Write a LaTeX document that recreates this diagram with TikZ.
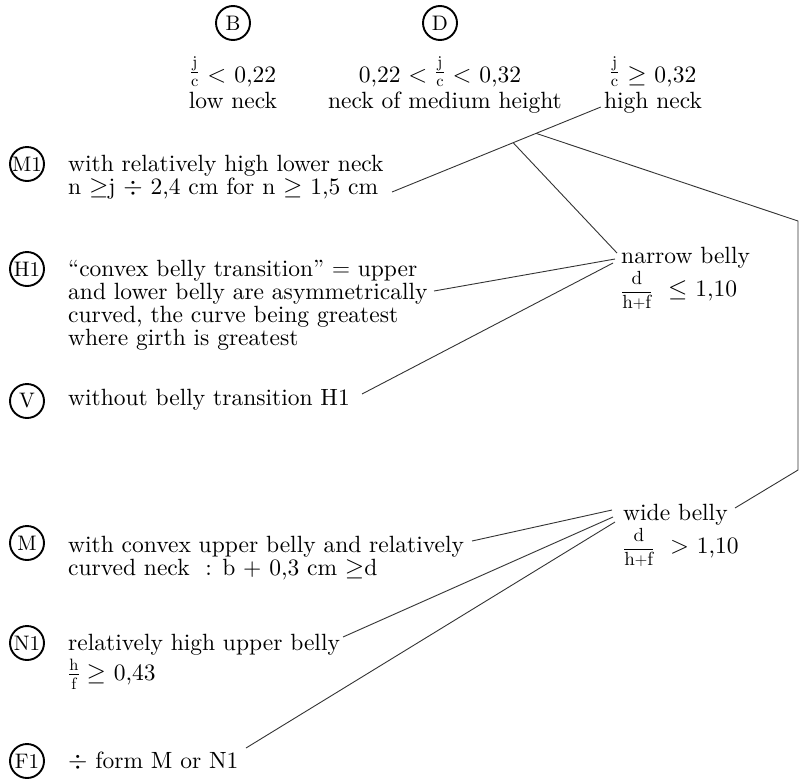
\documentclass[tikz,border=0pt]{standalone}
\usepackage{fontspec}
\setmainfont{lmroman10-regular.otf}
\usetikzlibrary{calc}
\newcommand{\ratio}[2]{\raisebox{4pt}{$\frac{\mathrm{#1}}{\mathrm{#2}}$}}
\newcommand{\bigratio}[2]{{\fontsize{19}{19}\selectfont$\displaystyle\frac{\mathrm{#1}}{\mathrm{#2}}$}}
\tikzset{
  every picture/.style={x=1pt, y=-1pt},
  tag/.style={circle, draw, line width=1.9pt, minimum size=34pt, inner sep=0pt, font=\fontsize{21}{21}\selectfont},
  entry/.style={anchor=north west, align=left, inner sep=0pt, font=\fontsize{23.5}{23}\selectfont},
  crit/.style={anchor=base, inner sep=0pt, font=\fontsize{23.5}{23}\selectfont},
  link/.style={draw=black!80, line width=0.9pt},
}
\begin{document}
\begin{tikzpicture}
  \useasboundingbox (0,0) rectangle (799,782);
  % neck height
  \node[tag] (B) at (233,23) {B};
  \node[tag] (D) at (440,23) {D};
  \node[crit] (lowfrac) at (233,82) {\ratio{j}{c} $<$ 0,22};
  \node[crit] (low) at (233,108) {low neck};
  \node[crit] (medfrac) at (440,82) {0,22 $<$ \ratio{j}{c} $<$ 0,32};
  \node[crit] (med) at (445,108) {neck of medium height};
  \node[crit] (highfrac) at (653,82) {\ratio{j}{c} $\geq$ 0,32};
  \node[crit] (high) at (653,108) {high neck};
  % forms on the left
  \node[tag] (M1) at (27,164) {M1};
  \node[entry] (tM1) at (68,155) {with relatively high lower neck\\n $\geq$j $\div$ 2,4 cm for n $\geq$ 1,5 cm};
  \node[tag] (H1) at (27,269) {H1};
  \node[entry] (tH1) at (68,260) {“convex belly transition” $=$ upper\\and lower belly are asymmetrically\\curved, the curve being greatest\\where girth is greatest};
  \node[tag] (V) at (27,401) {V};
  \node[entry, anchor=base west] (tV) at (68,405) {without belly transition H1};
  \node[tag] (M) at (27,543) {M};
  \node[entry] (tM) at (68,536) {with convex upper belly and relatively\\curved neck\ \ : b + 0,3 cm $\geq$d};
  \node[tag] (N1) at (27,643) {N1};
  \node[entry] (tN1) at (68,634) {relatively high upper belly\\[3pt]$\frac{\mathrm{h}}{\mathrm{f}} \geq$ 0,43};
  \node[tag] (F1) at (27,761) {F1};
  \node[entry, anchor=base west] (tF1) at (68,768) {$\div$ form M or N1};
  % belly width
  \node[entry] (narrow) at (621,247) {narrow belly\\[2pt]\bigratio{d}{h{+}f}\ \ $\leq$ 1,10};
  \node[entry] (wide) at (623,504) {wide belly\\[2pt]\bigratio{d}{h{+}f}\ \ $>$ 1,10};
  % connector ends
  \coordinate (hn) at ([shift={(-3,-1)}]high.base west);
  \coordinate (m1x) at (392,192);
  \coordinate (jA) at ($(hn)!0.31!(m1x)$);
  \coordinate (jB) at ($(hn)!0.42!(m1x)$);
  \coordinate (edgeT) at (798,221);
  \coordinate (edgeB) at (798,470);
  \coordinate (nbin) at ([shift={(-4,6)}]narrow.north west);
  \coordinate (nbH) at ([shift={(-6,12)}]narrow.north west);
  \coordinate (nbV) at ([shift={(-8,16)}]narrow.north west);
  \coordinate (wbM) at ([shift={(-11,6)}]wide.north west);
  \coordinate (wbN) at ([shift={(-10,13)}]wide.north west);
  \coordinate (wbF) at ([shift={(-8,18)}]wide.north west);
  \coordinate (wbR) at (735,508);
  \coordinate (h1x) at (434,291);
  \coordinate (vx) at (362,394);
  \coordinate (mx) at (472,541);
  \coordinate (n1x) at (343,637);
  \coordinate (f1x) at (246,748);
  % connectors
  \draw[link] (hn) -- (m1x);
  \draw[link] (jA) -- (edgeT) -- (edgeB) -- (wbR);
  \draw[link] (jB) -- (nbin);
  \draw[link] (h1x) -- (nbH);
  \draw[link] (vx) -- (nbV);
  \draw[link] (mx) -- (wbM);
  \draw[link] (n1x) -- (wbN);
  \draw[link] (f1x) -- (wbF);
\end{tikzpicture}
\end{document}
